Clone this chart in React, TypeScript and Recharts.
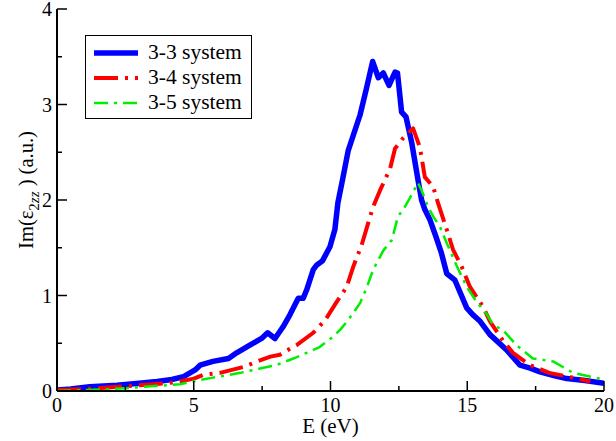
import { LineChart, Line, XAxis, YAxis, Legend } from 'recharts';

// Im(eps_2zz) spectra
const x33 = [0, 0.5, 1.2, 2.2, 3, 3.66, 4.2, 4.63, 5.05, 5.23, 5.7, 6.27, 6.57, 7.05, 7.48, 7.7, 7.97, 8.26, 8.52, 8.82, 9.0, 9.13, 9.37, 9.5, 9.7, 9.98, 10.16, 10.27, 10.46, 10.65, 11.08, 11.3, 11.54, 11.75, 11.93, 12.14, 12.36, 12.45, 12.6, 12.76, 12.97, 13.2, 13.33, 13.45, 13.64, 13.85, 14.06, 14.25, 14.55, 14.98, 15.2, 15.47, 15.83, 16.1, 16.44, 16.93, 17.3, 17.66, 18.2, 18.64, 19.3, 20];
const y33 = [0.01, 0.02, 0.045, 0.06, 0.08, 0.1, 0.12, 0.15, 0.22, 0.27, 0.31, 0.34, 0.4, 0.48, 0.55, 0.61, 0.55, 0.67, 0.8, 0.97, 0.97, 1.06, 1.27, 1.32, 1.36, 1.51, 1.69, 1.97, 2.24, 2.52, 2.89, 3.15, 3.45, 3.28, 3.33, 3.2, 3.34, 3.33, 2.92, 2.87, 2.6, 2.21, 2.0, 1.9, 1.79, 1.62, 1.44, 1.23, 1.16, 0.87, 0.8, 0.73, 0.59, 0.52, 0.43, 0.27, 0.24, 0.2, 0.16, 0.13, 0.11, 0.08];

const x34 = [0, 1, 2, 3, 4, 4.5, 5.0, 5.35, 5.96, 6.8, 7.42, 7.8, 8.15, 8.5, 8.76, 9.37, 9.8, 10.22, 10.59, 10.83, 11.14, 11.38, 11.56, 11.81, 12.18, 12.36, 12.66, 13.02, 13.27, 13.45, 13.75, 13.93, 14.25, 14.48, 14.8, 15.1, 15.58, 15.83, 16.3, 16.67, 17.3, 18.0, 18.87, 19.5];
const y34 = [0.01, 0.02, 0.04, 0.06, 0.08, 0.1, 0.13, 0.17, 0.19, 0.25, 0.32, 0.36, 0.38, 0.44, 0.48, 0.61, 0.74, 0.93, 1.09, 1.3, 1.53, 1.76, 1.93, 2.1, 2.33, 2.54, 2.65, 2.75, 2.55, 2.24, 2.14, 1.97, 1.69, 1.48, 1.3, 1.09, 0.88, 0.73, 0.53, 0.4, 0.27, 0.19, 0.14, 0.1];

const x35 = [0, 1, 2, 3, 4, 4.5, 5.1, 5.7, 6.7, 7.5, 8.0, 8.64, 9.13, 9.6, 10.1, 10.35, 10.64, 11.08, 11.32, 11.56, 11.93, 12.24, 12.47, 12.66, 12.9, 13.2, 13.33, 13.57, 13.75, 14.0, 14.25, 14.6, 14.98, 15.35, 15.7, 15.95, 16.3, 16.8, 17.4, 18.14, 18.87, 20];
const y35 = [0.0, 0.01, 0.02, 0.04, 0.06, 0.07, 0.11, 0.14, 0.19, 0.24, 0.27, 0.34, 0.4, 0.46, 0.57, 0.64, 0.74, 0.92, 1.08, 1.27, 1.47, 1.58, 1.83, 1.9, 2.02, 2.18, 2.1, 1.93, 1.83, 1.72, 1.55, 1.32, 1.09, 0.93, 0.81, 0.69, 0.64, 0.48, 0.34, 0.31, 0.19, 0.12];

const xTicks = [0, 2.5, 5, 7.5, 10, 12.5, 15, 17.5, 20];
const yTicks = [0, 0.5, 1, 1.5, 2, 2.5, 3, 3.5, 4];

const series = [
  { name: '3-3 system', xs: x33, ys: y33, color: '#0000ff', width: 5.5, dash: undefined },
  { name: '3-4 system', xs: x34, ys: y34, color: '#ff0000', width: 4, dash: '24 7 3 7' },
  { name: '3-5 system', xs: x35, ys: y35, color: '#00ee00', width: 2.5, dash: '14 6 3 6' },
];

const toPoints = (xs: number[], ys: number[]) => xs.map((x, i) => ({ x, y: ys[i] }));

const FONT = '"Liberation Serif", "Times New Roman", serif';

const isMajor = (v: number, step: number) => Math.abs(v / step - Math.round(v / step)) < 1e-6;

const BottomTick = ({ x, y, payload }: any) => {
  const major = isMajor(payload.value, 5);
  return (
    <g>
      <line x1={x} y1={y} x2={x} y2={y - (major ? 10 : 5)} stroke="#000" strokeWidth={1.5} />
      {major && (
        <text x={x} y={y + 21} textAnchor="middle" fontSize={20} fontFamily={FONT} fill="#000">
          {payload.value}
        </text>
      )}
    </g>
  );
};

const TopTick = ({ x, y, payload }: any) => {
  const major = isMajor(payload.value, 5);
  return <line x1={x} y1={y} x2={x} y2={y + (major ? 10 : 5)} stroke="#000" strokeWidth={1.5} />;
};

const LeftTick = ({ x, y, payload }: any) => {
  const major = isMajor(payload.value, 1);
  return (
    <g>
      <line x1={x} y1={y} x2={x + (major ? 10 : 5)} y2={y} stroke="#000" strokeWidth={1.5} />
      {major && (
        <text x={x - 5} y={y + 7} textAnchor="end" fontSize={20} fontFamily={FONT} fill="#000">
          {payload.value}
        </text>
      )}
    </g>
  );
};

const RightTick = ({ x, y, payload }: any) => {
  const major = isMajor(payload.value, 1);
  return <line x1={x} y1={y} x2={x - (major ? 10 : 5)} y2={y} stroke="#000" strokeWidth={1.5} />;
};

const LegendBox = () => (
  <div
    style={{
      border: '1.5px solid #000',
      background: '#fff',
      width: 165,
      padding: '4px 0 3px 0',
      fontFamily: FONT,
      fontSize: 21.5,
      lineHeight: '25px',
    }}
  >
    {series.map(s => (
      <div key={s.name} style={{ display: 'flex', alignItems: 'center', height: 25 }}>
        <svg width={62} height={25}>
          <line x1={8} y1={13} x2={52} y2={13} stroke={s.color} strokeWidth={s.width} strokeDasharray={s.dash} />
        </svg>
        <span>{s.name}</span>
      </div>
    ))}
  </div>
);

const YLabel = () => (
  <text
    transform="translate(33, 190) rotate(-90)"
    textAnchor="middle"
    fontSize={20.5}
    fontFamily={FONT}
    fill="#000"
  >
    Im(ε
    <tspan fontSize={15} dy={6}>2</tspan>
    <tspan fontSize={15} fontStyle="italic">zz</tspan>
    <tspan dy={-6}> ) (a.u.)</tspan>
  </text>
);

export default function App() {
  return (
    <div style={{ position: 'absolute', left: 0, top: 0, width: 616, height: 441, background: '#fff' }}>
      <LineChart width={616} height={441} margin={{ top: 9, right: 12, bottom: 10, left: 10 }}>
        <XAxis
          dataKey="x"
          type="number"
          domain={[0, 20]}
          ticks={xTicks}
          allowDataOverflow
          height={40}
          stroke="#000"
          strokeWidth={2}
          tickLine={false}
          tickSize={0}
          tickMargin={0}
          tick={BottomTick}
          interval={0}
          label={{ value: 'E (eV)', position: 'insideBottom', offset: -2, fontSize: 21, fontFamily: FONT, fill: '#000' }}
        />
        <XAxis
          xAxisId="top"
          orientation="top"
          dataKey="x"
          type="number"
          domain={[0, 20]}
          ticks={xTicks}
          height={0}
          stroke="#000"
          strokeWidth={2}
          tickLine={false}
          tickSize={0}
          tickMargin={0}
          tick={TopTick}
          interval={0}
        />
        <YAxis
          type="number"
          domain={[0, 4]}
          ticks={yTicks}
          allowDataOverflow
          width={47}
          stroke="#000"
          strokeWidth={2}
          tickLine={false}
          tickSize={0}
          tickMargin={0}
          tick={LeftTick}
          interval={0}
          label={{ content: () => <YLabel /> }}
        />
        <YAxis
          yAxisId="right"
          orientation="right"
          type="number"
          domain={[0, 4]}
          ticks={yTicks}
          width={0}
          stroke="#000"
          strokeWidth={2}
          tickLine={false}
          tickSize={0}
          tickMargin={0}
          tick={RightTick}
          interval={0}
        />
        <Legend
          align="center"
          verticalAlign="middle"
          layout="horizontal"
          wrapperStyle={{ position: 'absolute', left: 85, top: 35, width: 'auto' }}
          content={() => <LegendBox />}
        />
        {series.map(s => (
          <Line
            key={s.name}
            name={s.name}
            data={toPoints(s.xs, s.ys)}
            dataKey="y"
            type="linear"
            stroke={s.color}
            strokeWidth={s.width}
            strokeDasharray={s.dash}
            strokeLinejoin="round"
            dot={false}
            activeDot={false}
            isAnimationActive={false}
          />
        ))}
      </LineChart>
    </div>
  );
}
